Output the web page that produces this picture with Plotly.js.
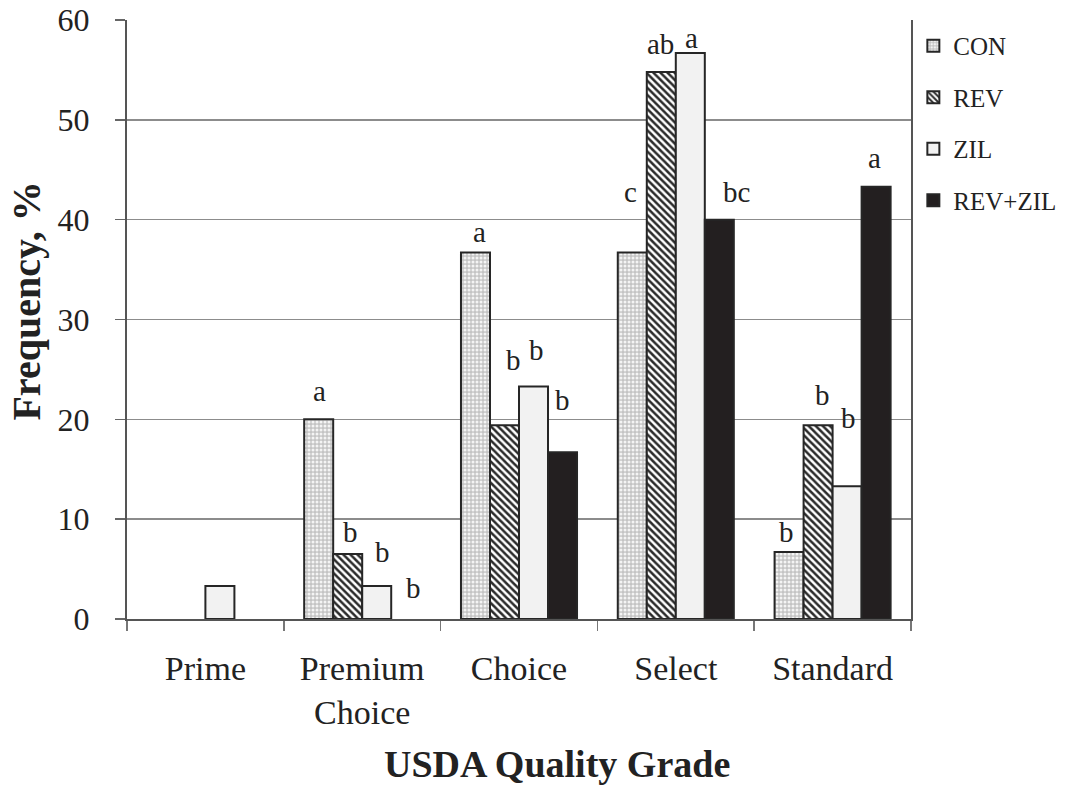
<!DOCTYPE html>
<html>
<head>
<meta charset="utf-8">
<script src="https://cdn.plot.ly/plotly-3.0.1.min.js"></script>
<style>html,body{margin:0;padding:0;background:#fff;}</style>
</head>
<body>
<div id="chart" style="width:1073px;height:787px;"></div>
<script>
// ---- data ----
const categories = ['Prime', 'Premium<br>Choice', 'Choice', 'Select', 'Standard'];
const seriesNames = ['CON', 'REV', 'ZIL', 'REV+ZIL'];
const CON = [0, 20.0, 36.7, 36.7, 6.7];
const REV = [0, 6.5, 19.4, 54.8, 19.4];
const ZIL = [3.3, 3.3, 23.3, 56.7, 13.3];
const REV_ZIL = [0, 0, 16.7, 40.0, 43.3];
const CON_letters = ['', 'a', 'a', 'c', 'b'];
const REV_letters = ['', 'b', 'b', 'ab', 'b'];
const ZIL_letters = ['', 'b', 'b', 'a', 'b'];
const REV_ZIL_letters = ['', 'b', 'b', 'bc', 'a'];
const yTicks = [0, 10, 20, 30, 40, 50, 60];

// ---- styling ----
const serif = 'Liberation Serif, Times New Roman, serif';
const ink = '#222222';
const values = [CON, REV, ZIL, REV_ZIL];
const letters = [CON_letters, REV_letters, ZIL_letters, REV_ZIL_letters];
const fills = [
  {color: '#cfcfcf', pattern: {shape: '.', bgcolor: '#c4c4c4', fgcolor: '#f4f4f4', size: 4, solidity: 0.45}},
  {color: '#ffffff', pattern: {shape: '\\', bgcolor: '#ffffff', fgcolor: '#2b2b2b', size: 5, solidity: 0.5}},
  {color: '#f2f2f2'},
  {color: '#231f20'}
];
const bargap = 0.26;
const barW = (1 - bargap) / 4;
// label offsets in pixels: [xshift, yshift] for each series/category
const labelShift = [
  [[0,0],[1,28],[4,21],[-2,61],[-3,20]],
  [[0,0],[3,22],[9,65],[-1,28],[4,30]],
  [[0,0],[6,34],[3,36],[1,15],[1,68]],
  [[0,0],[8,31],[0,52],[17,28],[-2,29]]
];

const traces = values.map((v, s) => ({
  type: 'bar',
  name: seriesNames[s],
  x: categories,
  // a zero-height bar leaves no visible mark in the reference
  y: v.map(d => (d > 0 ? d : null)),
  marker: Object.assign({}, fills[s], {line: {color: '#262626', width: 2}}),
  legendgroup: 'g' + s,
  hoverinfo: 'skip'
}));

const annotations = [];
values.forEach((v, s) => {
  v.forEach((val, i) => {
    const t = letters[s][i];
    if (!t) return;
    annotations.push({
      xref: 'x', yref: 'y',
      x: i + (s - 1.5) * barW, y: val,
      xshift: labelShift[s][i][0], yshift: labelShift[s][i][1],
      text: t, showarrow: false,
      xanchor: 'center', yanchor: 'middle',
      font: {family: serif, size: 29, color: ink}
    });
  });
});
annotations.push({
  xref: 'paper', yref: 'paper', x: 0.549, y: -0.242,
  text: 'USDA Quality Grade', showarrow: false, xanchor: 'center', yanchor: 'middle',
  font: {family: serif, size: 38, color: ink, weight: 'bold'}
});
annotations.push({
  xref: 'paper', yref: 'paper', x: -0.128, y: 0.531, textangle: -90,
  text: 'Frequency, %', showarrow: false, xanchor: 'center', yanchor: 'middle',
  font: {family: serif, size: 40, color: ink, weight: 'bold'}
});

const layout = {
  width: 1073, height: 787,
  margin: {l: 127, r: 155, t: 20, b: 168},
  paper_bgcolor: '#ffffff', plot_bgcolor: '#ffffff',
  barmode: 'group', bargap: bargap, bargroupgap: 0,
  font: {family: serif, color: ink},
  showlegend: true,
  legend: {
    x: 1.003, xanchor: 'left', y: 0.995, yanchor: 'top',
    font: {family: serif, size: 25, color: ink},
    tracegroupgap: 16, traceorder: 'grouped', bgcolor: 'rgba(0,0,0,0)'
  },
  xaxis: {
    type: 'category', tickson: 'boundaries', ticks: 'outside', ticklen: 10,
    tickcolor: '#777', tickwidth: 1.5, showline: true, linecolor: '#555', linewidth: 2,
    showgrid: false, tickfont: {family: serif, size: 34, color: ink},
    ticklabelstandoff: 18, fixedrange: true
  },
  yaxis: {
    range: [0, 60], tickvals: yTicks, ticks: 'outside', ticklen: 10,
    tickcolor: '#666', tickwidth: 1.5, showline: true, linecolor: '#555', linewidth: 2,
    mirror: true, showgrid: true, gridcolor: '#8c8c8c', gridwidth: 1.5, zeroline: false,
    tickfont: {family: serif, size: 32, color: ink}, ticklabelstandoff: 19,
    fixedrange: true
  },
  annotations: annotations
};

Plotly.newPlot('chart', traces, layout, {displayModeBar: false, staticPlot: true});
</script>
</body>
</html>
